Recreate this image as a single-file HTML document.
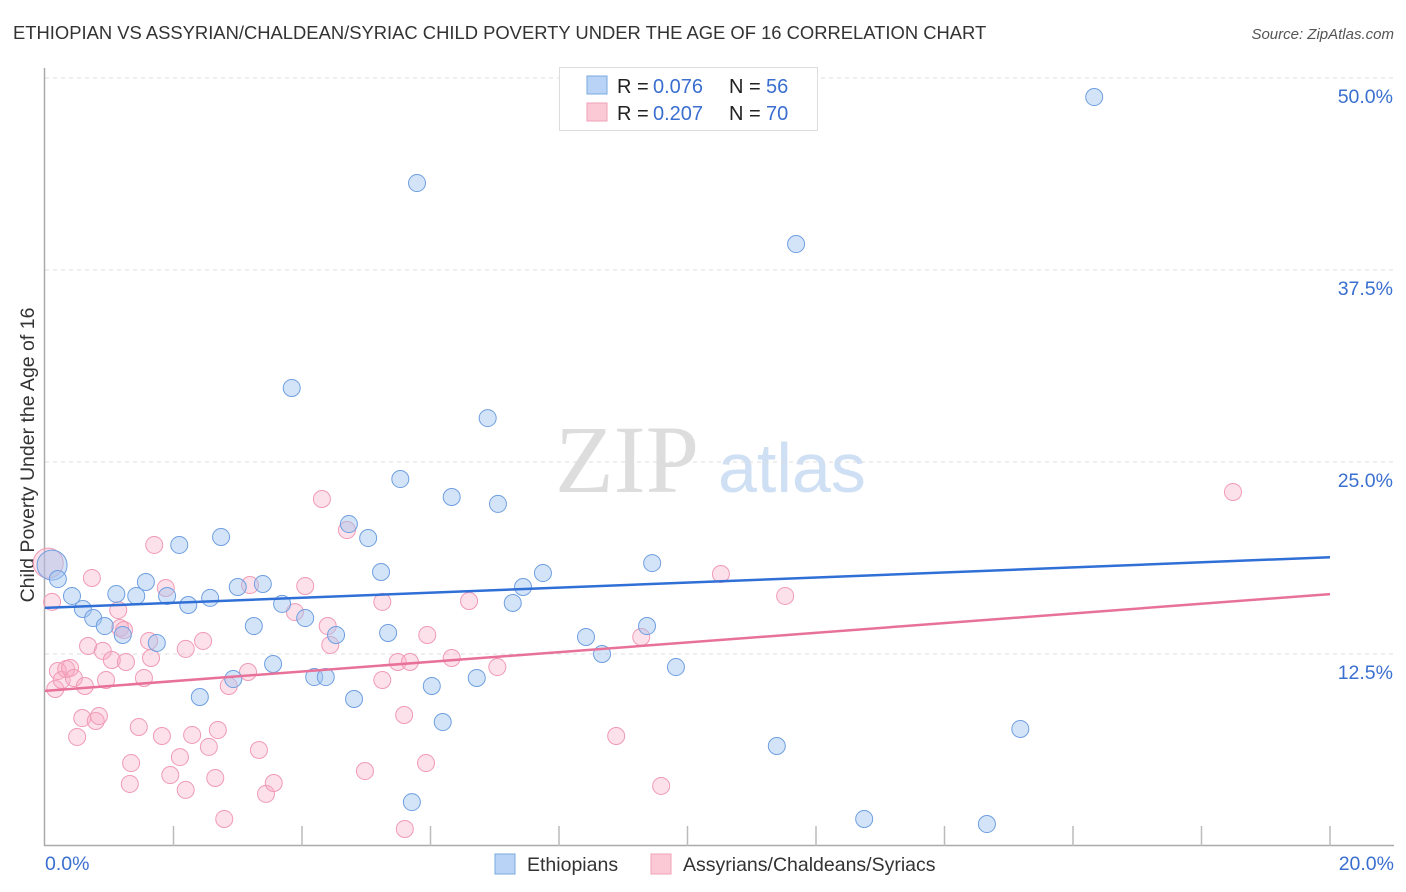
<!DOCTYPE html>
<html><head><meta charset="utf-8"><style>
body{margin:0;background:#fff;font-family:"Liberation Sans",sans-serif;}
#wrap{position:relative;width:1406px;height:892px;overflow:hidden;}
</style></head><body>
<div id="wrap">
<svg id="svg" width="1406" height="892" xmlns="http://www.w3.org/2000/svg">
<text x="13" y="39" font-size="18.4" fill="#333">ETHIOPIAN VS ASSYRIAN/CHALDEAN/SYRIAC CHILD POVERTY UNDER THE AGE OF 16 CORRELATION CHART</text>
<text x="1394" y="39" font-size="15" fill="#555" font-style="italic" text-anchor="end">Source: ZipAtlas.com</text>
<text x="34" y="455" font-size="19.5" fill="#333" text-anchor="middle" transform="rotate(-90 34 455)">Child Poverty Under the Age of 16</text>
<text x="555" y="492" font-size="96" fill="#ddd" font-family="Liberation Serif,serif">ZIP</text>
<text x="718" y="492" font-size="70" fill="#cfe0f5">atlas</text>
<g id="grid"></g><g id="axes"></g><g id="pts"></g><g id="lines"></g>
<g>
<rect x="559.5" y="67.5" width="258" height="63" fill="#fff" stroke="#ddd"/>
<rect x="587" y="76" width="20" height="18" fill="#b8d3f5" stroke="#7aa8e0"/>
<text y="93" font-size="20" fill="#222"><tspan x="617">R =</tspan><tspan x="653" fill="#3a6fd0">0.076</tspan><tspan x="729">N =</tspan><tspan x="766" fill="#3a6fd0">56</tspan></text>
<rect x="587" y="103" width="20" height="18" fill="#fbc8d6" stroke="#f0a0b8"/>
<text y="120" font-size="20" fill="#222"><tspan x="617">R =</tspan><tspan x="653" fill="#3a6fd0">0.207</tspan><tspan x="729">N =</tspan><tspan x="766" fill="#3a6fd0">70</tspan></text>
</g>
<g>
<rect x="495" y="854" width="20" height="20" fill="#b8d3f5" stroke="#7aa8e0"/>
<text x="527" y="871" font-size="19.5" fill="#333">Ethiopians</text>
<rect x="651" y="854" width="20" height="20" fill="#fbc8d6" stroke="#f0a0b8"/>
<text x="683" y="871" font-size="19.5" fill="#333">Assyrians/Chaldeans/Syriacs</text>
</g>
</svg>
</div>
<script>
const yTicks=[12.5,25,37.5,50];
const yTickLabels=["12.5%","25.0%","37.5%","50.0%"];
const xTickLabels=["0.0%","20.0%"];
const bluePx=[[52,565],[58,579],[72,596],[83,609],[93,618],[105,626],[123,635],[116,594],[136,596],[146,582],[157,643],[167,596],[179,545],[188,605],[200,697],[210,598],[221,537],[233,679],[238,587],[254,626],[263,584],[273,664],[282,604],[292,388],[305,618],[314,677],[326,677],[336,635],[349,524],[354,699],[368,538],[381,572],[388,633],[400,479],[412,802],[417,183],[432,686],[443,722],[452,497],[477,678],[488,418],[498,504],[513,603],[523,587],[543,573],[586,637],[602,654],[647,626],[652,563],[676,667],[777,746],[796,244],[864,819],[987,824],[1020,729],[1094,97]];
const pinkPx=[[48,563],[52,602],[55,689],[58,671],[62,680],[66,669],[70,668],[74,678],[77,737],[82,718],[85,686],[88,646],[92,578],[96,721],[99,716],[103,651],[106,680],[112,660],[118,610],[120,628],[124,630],[126,662],[131,763],[130,784],[139,727],[144,678],[149,641],[151,658],[154,545],[162,736],[166,588],[170,775],[180,757],[186,649],[186,790],[192,735],[203,641],[209,747],[215,778],[218,730],[224,819],[229,686],[248,672],[250,585],[259,750],[266,794],[274,783],[295,612],[305,586],[322,499],[328,626],[330,645],[347,530],[365,771],[382,602],[382,680],[398,662],[404,715],[405,829],[410,662],[426,763],[427,635],[452,658],[469,601],[497,667],[616,736],[641,637],[661,786],[721,574],[785,596],[1233,492]];
const blueX=bluePx.map(p=>+((p[0]-45)/1285*20).toFixed(2));
const blueY=bluePx.map(p=>+((846-p[1])/15.36).toFixed(2));
const pinkX=pinkPx.map(p=>+((p[0]-45)/1285*20).toFixed(2));
const pinkY=pinkPx.map(p=>+((846-p[1])/15.36).toFixed(2));
const blueTrend=[15.5,18.8];
const pinkTrend=[10.1,16.4];
const X0=45,X1=1330,Y0=846;
const sx=v=>X0+v/20*(X1-X0);
const sy=v=>Y0-v*15.36;
const NS="http://www.w3.org/2000/svg";
function mk(tag,attrs,parent){const e=document.createElementNS(NS,tag);for(const k in attrs)e.setAttribute(k,attrs[k]);document.getElementById(parent).appendChild(e);return e;}
yTicks.forEach((t,i)=>{
 const l=mk('line',{x1:45,x2:1394,y1:sy(t),y2:sy(t),stroke:'#ddd','stroke-dasharray':'4,4'},'grid');
 
 
 const tx=mk('text',{x:1393,y:sy(t)+25,'font-size':19.5,fill:'#3a6fd0','text-anchor':'end'},'grid');
 tx.textContent=yTickLabels[i];
 
 
});
let a=mk('line',{x1:44.5,x2:44.5,y1:68,y2:846,stroke:'#aaa','stroke-width':1.5},'axes');


a=mk('line',{x1:44,x2:1394,y1:845.5,y2:845.5,stroke:'#aaa','stroke-width':1.5},'axes');


for(let i=1;i<=10;i++){const t=mk('line',{x1:sx(i*2),x2:sx(i*2),y1:826,y2:846,stroke:'#bbb','stroke-width':1.5},'axes');
 
 }
let xl=mk('text',{x:45,y:870,'font-size':19.5,fill:'#3a6fd0'},'axes');xl.textContent=xTickLabels[0];


xl=mk('text',{x:1394,y:870,'font-size':19.5,fill:'#3a6fd0','text-anchor':'end'},'axes');xl.textContent=xTickLabels[1];


function dots(xs,ys,fill,stroke,name){xs.forEach((x,i)=>{
 const r=(i===0)?15:8.5;
 const c=mk('circle',{cx:sx(x),cy:sy(ys[i]),r:r,fill:fill,stroke:stroke,'stroke-width':1},'pts');
 
 });}
dots(pinkX,pinkY,'rgba(248,170,195,0.35)','#f09ab5','point-assyrians');
dots(blueX,blueY,'rgba(160,196,240,0.45)','#6e9fe0','point-ethiopians');
let tl=mk('line',{x1:sx(0),x2:sx(20),y1:sy(blueTrend[0]),y2:sy(blueTrend[1]),stroke:'#2f6fd6','stroke-width':2.5},'lines');


tl=mk('line',{x1:sx(0),x2:sx(20),y1:sy(pinkTrend[0]),y2:sy(pinkTrend[1]),stroke:'#e8719a','stroke-width':2.5},'lines');


</script>
</body></html>
